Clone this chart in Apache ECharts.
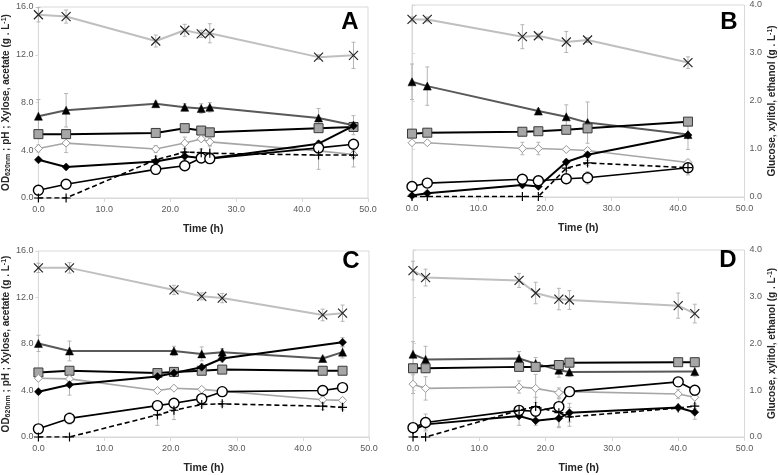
<!DOCTYPE html>
<html>
<head>
<meta charset="utf-8">
<script src="https://cdn.jsdelivr.net/npm/echarts@6/dist/echarts.min.js"></script>
<style>
html,body{margin:0;padding:0;background:#fff;}
#chart{width:778px;height:475px;}
</style>
</head>
<body>
<div id="chart"></div>
<script>
// ---------- Panel A (left axis, 0-16) ----------
const tA = [0, 4.2, 17.8, 22.2, 24.7, 26.0, 42.5, 47.8];
const A_cross = [15.35, 15.2, 13.15, 14.05, 13.75, 13.8, 11.8, 11.95];
const A_tri = [6.85, 7.35, 7.9, 7.6, 7.5, 7.6, 6.7, 6.1];
const A_square = [5.35, 5.35, 5.45, 5.85, 5.65, 5.5, 5.85, 5.95];
const A_openDia = [4.15, 4.6, 4.1, 4.6, 4.95, 4.7, 3.95, 3.65];
const A_fillDia = [3.2, 2.6, 3.05, 3.5, 3.35, 3.3, 4.55, 6.05];
const A_circle = [0.65, 1.15, 2.4, 2.7, 3.35, 3.3, 4.2, 4.5];
const A_plus = [0, 0, 3.2, 3.85, 3.8, 3.75, 3.6, 3.6];
const A_cross_err = [0.6, 0.55, 0.5, 0.5, 0.3, 0.8, 0.2, 1.1];
const A_tri_err = [1.4, 1.4, 0.2, 0.3, 0.4, 0.4, 0.8, 0.8];
const A_square_err = [0.15, 0.15, 0.1, 0.15, 0.15, 0.1, 0.1, 0.3];
const A_openDia_err = [0.3, 0.8, 0.3, 0.5, 0.2, 0.3, 0, 0.3];
const A_fillDia_err = [0.15, 0.15, 0.2, 0.3, 0.2, 0.2, 0.2, 0.3];
const A_circle_err = [0.1, 0.1, 0.2, 0.2, 0.3, 0.2, 0.3, 0.3];
const A_plus_err = [0, 0, 0.3, 0.3, 0.3, 0.6, 1.2, 1.0];

// ---------- Panel B (right axis, 0-4) ----------
const tB = [0, 2.3, 16.6, 19.0, 23.2, 26.4, 41.5];
const B_cross = [3.7, 3.7, 3.34, 3.36, 3.23, 3.27, 2.8];
const B_tri = [2.4, 2.31, null, 1.79, 1.67, 1.55, 1.3];
const B_square = [1.32, 1.34, 1.36, 1.37, 1.4, 1.43, 1.57];
const B_openDia = [1.13, 1.13, 1.01, 1.01, 0.99, 0.97, 0.72];
const B_fillDia = [0.03, 0.08, 0.25, 0.22, 0.73, 0.88, 1.29];
const B_circle = [0.22, 0.29, 0.37, 0.34, 0.38, 0.4, 0.61];
const B_plus = [0.01, 0.01, 0.01, 0.01, 0.6, 0.71, 0.61];
const B_cross_err = [0.05, 0.05, 0.25, 0.05, 0.22, 0.05, 0.12];
const B_tri_err = [0.37, 0.4, 0, 0.05, 0.25, 0.43, 0.05];
const B_square_err = [0.03, 0.03, 0.03, 0.03, 0.03, 0.03, 0.03];
const B_openDia_err = [0.03, 0.03, 0.13, 0.13, 0.03, 0.05, 0.05];
const B_fillDia_err = [0.02, 0.02, 0.03, 0.03, 0.05, 0.05, 0.3];
const B_circle_err = [0.02, 0.02, 0.03, 0.03, 0.05, 0.13, 0.15];
const B_plus_err = [0, 0, 0, 0, 0.05, 0.05, 0.05];

// ---------- Panel C (left axis, 0-16) ----------
const tC = [0, 4.7, 18.0, 20.5, 24.7, 27.8, 43.0, 46.0];
const C_cross = [14.55, 14.55, null, 12.65, 12.1, 11.95, 10.5, 10.65];
const C_tri = [8.05, 7.4, null, 7.4, 7.15, 7.3, 6.75, 7.3];
const C_square = [5.55, 5.7, 5.5, 5.6, 5.7, 5.8, 5.7, 5.7];
const C_openDia = [5.05, 5.0, 4.0, 4.2, 4.1, 3.95, 3.2, 3.15];
const C_fillDia = [3.9, 4.5, 5.2, 5.5, 6.0, 6.75, null, 8.15];
const C_circle = [0.7, 1.6, 2.7, 2.9, 3.3, 3.9, 4.0, 4.25];
const C_plus = [0, 0, 1.9, 2.3, 2.8, 2.85, 2.65, 2.55];
const C_cross_err = [0.4, 0.45, 0, 0.4, 0.3, 0.4, 0.5, 0.7];
const C_tri_err = [0.7, 0.85, 0, 0.4, 0.6, 0.3, 0.2, 0.5];
const C_square_err = [0.1, 0.1, 0.1, 0.1, 0.1, 0.1, 0.1, 0.1];
const C_openDia_err = [0.1, 0.1, 0.1, 0.1, 0.1, 0.1, 0.3, 0.2];
const C_fillDia_err = [0.2, 0.9, 0.2, 0.2, 0.3, 0.3, 0, 0.4];
const C_circle_err = [0.1, 0.5, 0.4, 0.3, 0.2, 0.2, 0.2, 0.3];
const C_plus_err = [0, 0, 0.9, 0.8, 0.2, 0.2, 0.3, 0.2];

// ---------- Panel D (right axis, 0-4) ----------
const tD = [0, 1.9, 16.0, 18.5, 22.0, 23.6, 40.0, 42.5];
const D_cross = [3.56, 3.41, 3.35, 3.08, 2.95, 2.93, 2.81, 2.64];
const D_tri = [1.77, 1.66, 1.68, 1.57, 1.43, 1.39, null, 1.4];
const D_square = [1.47, 1.47, 1.5, 1.5, 1.54, 1.59, 1.6, 1.6];
const D_openDia = [1.13, 1.04, 1.07, 1.04, 0.95, 0.97, 0.92, 0.85];
const D_fillDia = [0.15, 0.27, 0.45, 0.35, 0.4, 0.52, 0.63, 0.53];
const D_circle = [0.2, 0.31, 0.57, 0.55, 0.65, 0.97, 1.18, 1.0];
const D_plus = [0, 0, 0.57, 0.65, 0.52, 0.43, 0.62, 0.66];
const D_cross_err = [0.2, 0.18, 0.15, 0.23, 0.23, 0.2, 0.27, 0.2];
const D_tri_err = [0.27, 0.28, 0.15, 0.13, 0.15, 0.1, 0, 0.1];
const D_square_err = [0.03, 0.03, 0.03, 0.03, 0.05, 0.03, 0.03, 0.03];
const D_openDia_err = [0.2, 0.25, 0.13, 0.3, 0.1, 0.1, 0.1, 0.05];
const D_fillDia_err = [0.05, 0.1, 0.2, 0.1, 0.2, 0.2, 0.05, 0.15];
const D_circle_err = [0.05, 0.18, 0.1, 0.1, 0.1, 0.1, 0.1, 0.1];
const D_plus_err = [0, 0, 0.1, 0.2, 0.3, 0.2, 0.05, 0.05];

// Axis ticks / labels
const xTicks = { min: 0, max: 50, interval: 10 };
const yLeftTicks = { min: 0, max: 16, interval: 4 };
const yRightTicks = { min: 0, max: 4, interval: 1 };
const panelLetters = ['A', 'B', 'C', 'D'];
const xTitle = 'Time (h)';
const yLeftTitle = 'OD{sub|620nm} ; pH ; Xylose, acetate (g . L{sup|-1})';
const yRightTitle = 'Glucose, xylitol, ethanol (g . L{sup|-1})';

const panels = [
  { t: tA, s: { cross: A_cross, tri: A_tri, square: A_square, openDia: A_openDia, fillDia: A_fillDia, circle: A_circle, plus: A_plus },
    e: { cross: A_cross_err, tri: A_tri_err, square: A_square_err, openDia: A_openDia_err, fillDia: A_fillDia_err, circle: A_circle_err, plus: A_plus_err } },
  { t: tB, s: { cross: B_cross, tri: B_tri, square: B_square, openDia: B_openDia, fillDia: B_fillDia, circle: B_circle, plus: B_plus },
    e: { cross: B_cross_err, tri: B_tri_err, square: B_square_err, openDia: B_openDia_err, fillDia: B_fillDia_err, circle: B_circle_err, plus: B_plus_err } },
  { t: tC, s: { cross: C_cross, tri: C_tri, square: C_square, openDia: C_openDia, fillDia: C_fillDia, circle: C_circle, plus: C_plus },
    e: { cross: C_cross_err, tri: C_tri_err, square: C_square_err, openDia: C_openDia_err, fillDia: C_fillDia_err, circle: C_circle_err, plus: C_plus_err } },
  { t: tD, s: { cross: D_cross, tri: D_tri, square: D_square, openDia: D_openDia, fillDia: D_fillDia, circle: D_circle, plus: D_plus },
    e: { cross: D_cross_err, tri: D_tri_err, square: D_square_err, openDia: D_openDia_err, fillDia: D_fillDia_err, circle: D_circle_err, plus: D_plus_err } }
];

// ---------- styles ----------
const styles = {
  cross:   { line: { color: '#bfbfbf', width: 2 }, symbol: 'path://M0,0L10,10M10,0L0,10', size: 9, item: { color: 'rgba(0,0,0,0)', borderColor: '#262626', borderWidth: 1.2 } },
  tri:     { line: { color: '#595959', width: 2 }, symbol: 'triangle', size: 8, item: { color: '#000', borderColor: '#000', borderWidth: 0.5 } },
  square:  { line: { color: '#000', width: 2 }, symbol: 'rect', size: 9, item: { color: '#a6a6a6', borderColor: '#3a3a3a', borderWidth: 1 } },
  openDia: { line: { color: '#a6a6a6', width: 1.6 }, symbol: 'diamond', size: 8, item: { color: '#fff', borderColor: '#999', borderWidth: 1 } },
  fillDia: { line: { color: '#000', width: 2 }, symbol: 'diamond', size: 8, item: { color: '#000', borderColor: '#000', borderWidth: 0.5 } },
  circle:  { line: { color: '#000', width: 1.6 }, symbol: 'circle', size: 10, item: { color: '#fff', borderColor: '#000', borderWidth: 1.4 } },
  plus:    { line: { color: '#000', width: 1.6, type: [5, 3] }, symbol: 'path://M5,0L5,10M0,5L10,5', size: 9, item: { color: 'rgba(0,0,0,0)', borderColor: '#000', borderWidth: 1.2 } }
};
const order = ['cross', 'tri', 'square', 'openDia', 'fillDia', 'circle', 'plus'];

const grids = [
  { left: 36, top: 7, width: 332, height: 191 },
  { left: 412, top: 5, width: 333, height: 192 },
  { left: 37, top: 251, width: 332, height: 190 },
  { left: 413, top: 250, width: 332, height: 192 }
];

const labelStyle = { color: '#595959', fontSize: 9, fontFamily: 'Liberation Sans', formatter: v => v.toFixed(1) };
const lineGray = { lineStyle: { color: '#d9d9d9', width: 1 } };

const xAxes = grids.map((g, i) => ({
  type: 'value', gridIndex: i, min: xTicks.min, max: xTicks.max, interval: xTicks.interval,
  axisLabel: Object.assign({ margin: 7 }, labelStyle),
  axisLine: lineGray, axisTick: { show: true, length: 4, lineStyle: { color: '#d9d9d9' } },
  splitLine: { show: false },
  name: xTitle, nameLocation: 'middle', nameGap: 26,
  nameTextStyle: { fontWeight: 'bold', fontSize: 10.5, color: '#262626', fontFamily: 'Liberation Sans' }
}));

const richName = {
  sub: { fontSize: 7, fontWeight: 'bold', color: '#262626', verticalAlign: 'bottom', padding: [3, 0, 0, 0], fontFamily: 'Liberation Sans' },
  sup: { fontSize: 7, fontWeight: 'bold', color: '#262626', verticalAlign: 'top', padding: [0, 0, 4, 0], fontFamily: 'Liberation Sans' }
};

const yAxes = grids.map((g, i) => {
  const right = (i === 1 || i === 3);
  const tk = right ? yRightTicks : yLeftTicks;
  return {
    type: 'value', gridIndex: i, min: tk.min, max: tk.max, interval: tk.interval,
    position: right ? 'right' : 'left',
    axisLabel: Object.assign({ margin: 5 }, labelStyle),
    axisLine: Object.assign({ show: true }, lineGray),
    axisTick: { show: true, length: 3, lineStyle: { color: '#d9d9d9' } },
    splitLine: { show: false },
    name: right ? yRightTitle : yLeftTitle,
    nameLocation: 'middle', nameRotate: 90, nameGap: right ? 22 : 20,
    nameTextStyle: { fontWeight: 'bold', fontSize: 10, color: '#262626', fontFamily: 'Liberation Sans', rich: richName }
  };
});

const series = [];
panels.forEach((p, i) => {
  // error bars
  const errData = [];
  order.forEach(k => {
    p.s[k].forEach((v, j) => {
      const e = p.e[k][j];
      if (v !== null && e > 0) errData.push([p.t[j], v - e, v + e]);
    });
  });
  series.push({
    type: 'custom', xAxisIndex: i, yAxisIndex: i, z: 1, silent: true,
    data: errData, encode: { x: 0, y: [1, 2] },
    renderItem: function (params, api) {
      const lo = api.coord([api.value(0), api.value(1)]);
      const hi = api.coord([api.value(0), api.value(2)]);
      const c = 2;
      const st = { stroke: '#b5b5b5', lineWidth: 1 };
      return { type: 'group', children: [
        { type: 'line', shape: { x1: lo[0], y1: lo[1], x2: hi[0], y2: hi[1] }, style: st },
        { type: 'line', shape: { x1: lo[0] - c, y1: lo[1], x2: lo[0] + c, y2: lo[1] }, style: st },
        { type: 'line', shape: { x1: hi[0] - c, y1: hi[1], x2: hi[0] + c, y2: hi[1] }, style: st }
      ] };
    }
  });
  order.forEach((k, idx) => {
    const st = styles[k];
    series.push({
      type: 'line', xAxisIndex: i, yAxisIndex: i, z: 2 + idx,
      data: p.t.map((t, j) => [t, p.s[k][j]]),
      connectNulls: true,
      symbol: st.symbol, symbolSize: st.size, showAllSymbol: true,
      lineStyle: st.line, itemStyle: st.item,
      animation: false, silent: true
    });
  });
});

const letterPos = [[350, 22], [729, 22], [351, 261], [728, 260]];
const graphics = panelLetters.map((L, i) => ({
  type: 'text', x: letterPos[i][0], y: letterPos[i][1],
  style: { text: L, font: 'bold 24px "Liberation Sans"', fill: '#000', textAlign: 'center', textVerticalAlign: 'middle' }
}));

const chart = echarts.init(document.getElementById('chart'), null, { renderer: 'canvas' });
chart.setOption({
  animation: false,
  backgroundColor: '#fff',
  grid: grids.map(g => Object.assign({ show: true, borderColor: '#d9d9d9', borderWidth: 1, backgroundColor: 'transparent' }, g)),
  xAxis: xAxes,
  yAxis: yAxes,
  series: series,
  graphic: graphics
});
</script>
</body>
</html>
